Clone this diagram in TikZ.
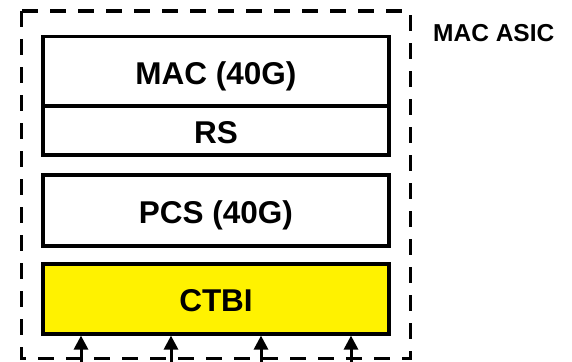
\documentclass[tikz,border=0pt]{standalone}
\usepackage{fontspec}
\setmainfont{Liberation Sans}
\usetikzlibrary{arrows.meta}
\tikzset{
  layer/.style={draw, line width=3.2pt, minimum width=346pt, inner sep=0pt,
    text height=25pt, text depth=0pt,
    font=\fontsize{31.5}{36}\selectfont\bfseries},
  asic/.style={draw, line width=3.5pt, dash pattern=on 16pt off 12pt},
  feed/.style={line width=3pt, -{Triangle[width=14pt,length=14pt]}}
}
\begin{document}
\begin{tikzpicture}[x=1pt,y=-1pt]
  \useasboundingbox (0,0) rectangle (572,361);
  % ASIC boundary
  \draw[asic] (21.7,11) rectangle (410.3,358.5);
  \node[anchor=base west, inner sep=0pt, font=\fontsize{24.5}{28}\selectfont\bfseries] (asiclbl) at (433,41.7) {MAC ASIC};
  % protocol layers
  \node[layer, minimum height=69.5pt] (mac) at (216,71.5) {MAC (40G)};
  \node[layer, minimum height=49pt] (rs) at (216,130.5) {RS};
  \node[layer, minimum height=71pt] (pcs) at (216,210.5) {PCS (40G)};
  \node[layer, fill=yellow, minimum height=70pt] (ctbi) at (216,299) {CTBI};
  % lanes entering the CTBI
  \foreach \i/\x in {1/81,2/171,3/261,4/351}{
    \coordinate (lane\i) at (\x,375);
    \draw[feed] (lane\i) -- (ctbi.south -| lane\i);
  }
\end{tikzpicture}
\end{document}
